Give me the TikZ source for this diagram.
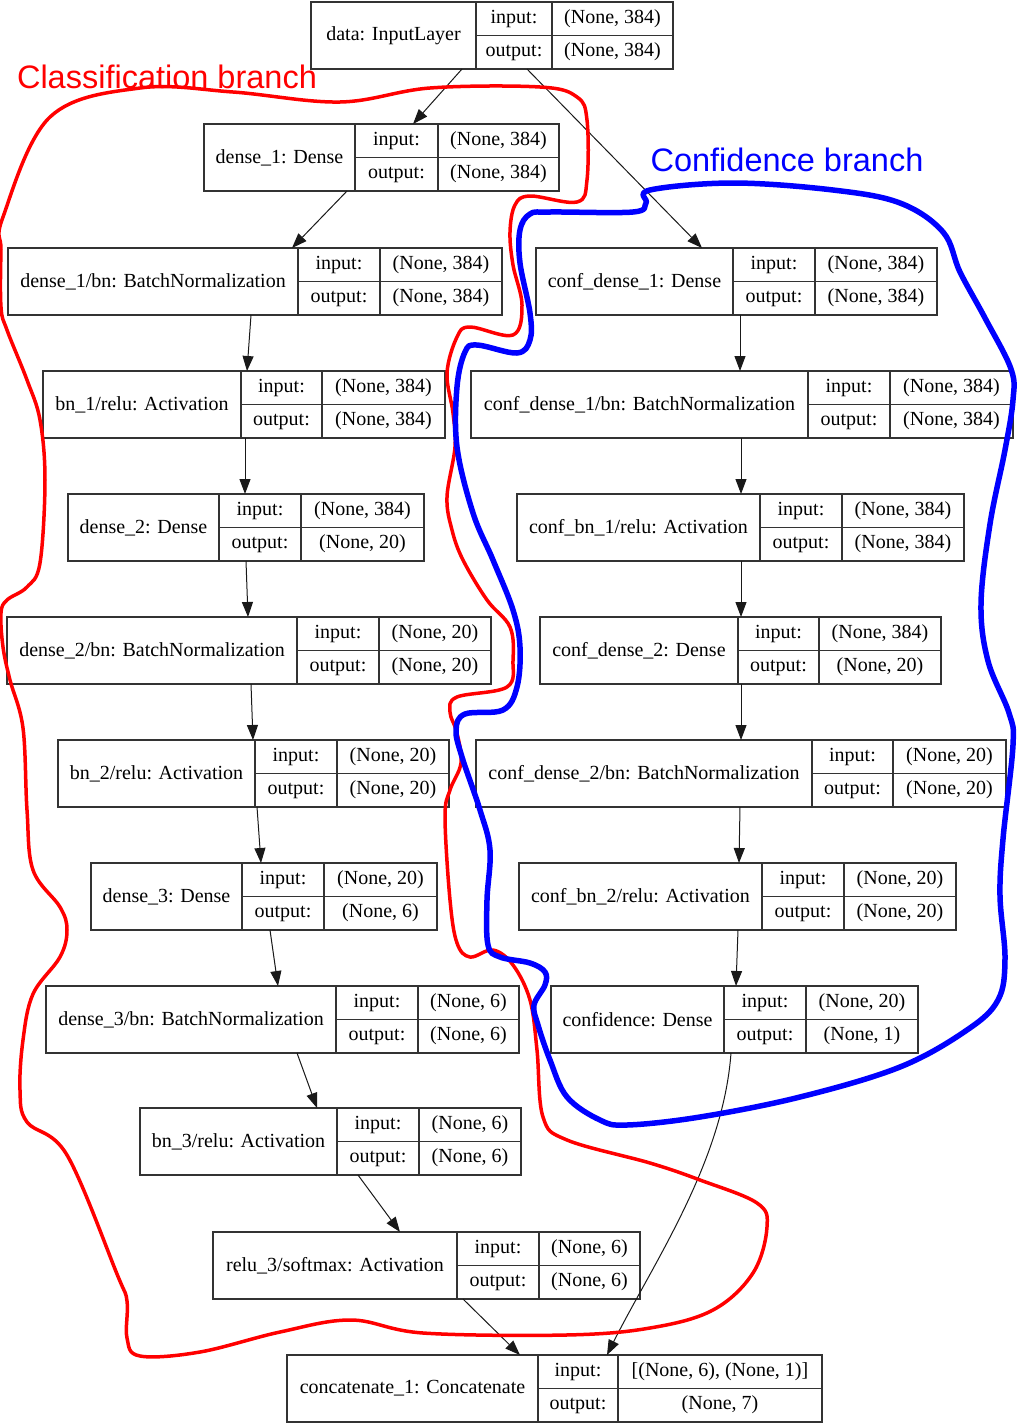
\documentclass[tikz,border=0pt]{standalone}
\usepackage{fontspec}
\setmainfont{Liberation Serif}
\newfontfamily\branchfont{Liberation Sans}
\usepackage{tikz}
\usetikzlibrary{arrows.meta}

% one keras layer: id, left, top, name width, label width, value width, title, input, output
\newcommand{\layer}[9]{%
\node[namebox,minimum width=#4pt,anchor=north west] (#1) at (#2,#3) {#7};
\node[cellbox,minimum width=#5pt,anchor=north west] (#1-in) at (#1.north east) {input:};
\node[cellbox,minimum width=#5pt,anchor=north west] (#1-out) at (#1-in.south west) {output:};
\node[cellbox,minimum width=#6pt,anchor=north west] (#1-inval) at (#1-in.north east) {#8};
\node[cellbox,minimum width=#6pt,anchor=north west] (#1-outval) at (#1-out.north east) {#9};
}

\begin{document}
\begin{tikzpicture}[x=1pt,y=-1pt,
namebox/.style={draw=black!80,line width=1.2pt,inner sep=0pt,outer sep=0pt,minimum height=67pt,
  font=\fontsize{20}{24}\selectfont},
cellbox/.style={draw=black!80,line width=1.2pt,inner sep=0pt,outer sep=0pt,minimum height=33.5pt,
  text height=14pt,text depth=5pt,font=\fontsize{20}{24}\selectfont},
edge/.style={draw=black!90,line width=1pt,-{Triangle[length=15pt,width=11pt]}},
branch/.style={font=\branchfont\fontsize{32.5}{38}\selectfont}
]
\useasboundingbox (0,0) rectangle (1017,1425);

% classification side
\layer{data}{311}{2}{165}{76}{121}{data: InputLayer}{(None, 384)}{(None, 384)}
\layer{d1}{204}{124}{151}{83}{121}{dense\_1: Dense}{(None, 384)}{(None, 384)}
\layer{d1bn}{8}{248}{290}{82}{122}{dense\_1/bn: BatchNormalization}{(None, 384)}{(None, 384)}
\layer{r1}{43}{371}{198}{81}{123}{bn\_1/relu: Activation}{(None, 384)}{(None, 384)}
\layer{d2}{68}{494}{151}{82}{123}{dense\_2: Dense}{(None, 384)}{(None, 20)}
\layer{d2bn}{7}{617}{290}{82}{112}{dense\_2/bn: BatchNormalization}{(None, 20)}{(None, 20)}
\layer{r2}{58}{740}{197}{82}{112}{bn\_2/relu: Activation}{(None, 20)}{(None, 20)}
\layer{d3}{91}{863}{151}{82}{113}{dense\_3: Dense}{(None, 20)}{(None, 6)}
\layer{d3bn}{46}{986}{290}{82}{101}{dense\_3/bn: BatchNormalization}{(None, 6)}{(None, 6)}
\layer{r3}{140}{1108}{197}{82}{102}{bn\_3/relu: Activation}{(None, 6)}{(None, 6)}
\layer{sm}{213}{1232}{244}{82}{101}{relu\_3/softmax: Activation}{(None, 6)}{(None, 6)}
\layer{cat}{287}{1355}{251}{80}{204}{concatenate\_1: Concatenate}{[(None, 6), (None, 1)]}{(None, 7)}

% confidence side
\layer{cd1}{536}{248}{197}{82}{122}{conf\_dense\_1: Dense}{(None, 384)}{(None, 384)}
\layer{cd1bn}{471}{371}{337}{82}{123}{conf\_dense\_1/bn: BatchNormalization}{(None, 384)}{(None, 384)}
\layer{cr1}{517}{494}{243}{82}{122}{conf\_bn\_1/relu: Activation}{(None, 384)}{(None, 384)}
\layer{cd2}{540}{617}{198}{81}{122}{conf\_dense\_2: Dense}{(None, 384)}{(None, 20)}
\layer{cd2bn}{476}{740}{336}{81}{113}{conf\_dense\_2/bn: BatchNormalization}{(None, 20)}{(None, 20)}
\layer{cr2}{519}{863}{243}{82}{112}{conf\_bn\_2/relu: Activation}{(None, 20)}{(None, 20)}
\layer{conf}{551}{986}{173}{82}{112}{confidence: Dense}{(None, 20)}{(None, 1)}

% edges
\draw[edge] ([xshift=151pt]data.south west) -- ([xshift=209pt]d1.north west);
\draw[edge] ([xshift=216pt]data.south west) -- ([xshift=166pt]cd1.north west);
\draw[edge] ([xshift=143pt]d1.south west) -- ([xshift=284pt]d1bn.north west);
\draw[edge] ([xshift=243pt]d1bn.south west) -- ([xshift=204pt]r1.north west);
\draw[edge] ([xshift=202pt]r1.south west) -- ([xshift=177pt]d2.north west);
\draw[edge] ([xshift=178pt]d2.south west) -- ([xshift=241pt]d2bn.north west);
\draw[edge] ([xshift=244pt]d2bn.south west) -- ([xshift=195pt]r2.north west);
\draw[edge] ([xshift=199pt]r2.south west) -- ([xshift=170pt]d3.north west);
\draw[edge] ([xshift=179pt]d3.south west) -- ([xshift=232pt]d3bn.north west);
\draw[edge] ([xshift=251pt]d3bn.south west) -- ([xshift=177pt]r3.north west);
\draw[edge] ([xshift=218pt]r3.south west) -- ([xshift=187pt]sm.north west);
\draw[edge] ([xshift=250pt]sm.south west) -- ([xshift=233pt]cat.north west);
\draw[edge] ([xshift=204pt]cd1.south west) -- ([xshift=269pt]cd1bn.north west);
\draw[edge] ([xshift=270pt]cd1bn.south west) -- ([xshift=224pt]cr1.north west);
\draw[edge] ([xshift=224pt]cr1.south west) -- ([xshift=201pt]cd2.north west);
\draw[edge] ([xshift=201pt]cd2.south west) -- ([xshift=265pt]cd2bn.north west);
\draw[edge] ([xshift=264pt]cd2bn.south west) -- ([xshift=220pt]cr2.north west);
\draw[edge] ([xshift=219pt]cr2.south west) -- ([xshift=185pt]conf.north west);
\draw[edge] ([xshift=180pt]conf.south west) .. controls +(-8,110) and +(45,-90) .. ([xshift=320pt]cat.north west);

% hand drawn branch outlines
\draw[red,line width=3.5pt,line join=round] plot[smooth cycle,tension=0.6] coordinates {
(3,217) (50,117) (140,88) (233,92) (340,102) (430,88) (540,87) (577,97) (587,120) (587,180)
(577,202) (530,196) (515,205) (510,232) (513,265) (522,305) (513,335) (470,327) (457,337)
(447,373) (453,413) (455,447) (447,497) (452,530) (463,560) (487,600) (510,627) (513,660)
(507,687) (457,697) (450,712) (457,733) (461,763) (450,790) (445,817) (450,900) (457,943)
(470,957) (493,950) (513,965) (530,1000) (537,1050) (543,1117) (567,1140) (650,1163)
(700,1180) (757,1203) (767,1227) (753,1273) (713,1310) (650,1328) (566,1335) (423,1333)
(351,1320) (280,1332) (200,1352) (140,1356) (127,1338) (127,1301) (117,1274) (67,1155)
(27,1122) (20,1090) (23,1040) (33,994) (60,957) (67,930) (60,907) (33,870) (27,810)
(23,728) (10,680) (3,647) (1,613) (7,600) (27,587) (40,563) (45,480) (40,420) (27,380)
(7,330) (1,307) (1,250)};
\draw[blue,line width=5.5pt,line join=round] plot[smooth cycle,tension=0.6] coordinates {
(650,190) (733,183) (833,190) (900,203) (943,232) (960,272) (985,318) (1011,369) (1013,400)
(1005,450) (990,524) (981,604) (988,661) (1009,713) (1013,745) (1003,839) (1000,896)
(1005,959) (998,1000) (967,1030) (900,1067) (800,1097) (700,1117) (627,1125) (600,1120)
(567,1097) (550,1060) (538,1025) (534,1005) (545,985) (545,972) (530,963) (500,957)
(488,945) (487,900) (490,850) (480,810) (462,757) (456,730) (465,714) (503,710) (517,687)
(520,647) (513,610) (493,560) (473,513) (457,447) (457,387) (465,352) (477,345) (517,353)
(530,340) (530,313) (520,263) (520,230) (530,214) (550,212) (633,212) (646,203)};

\node[branch,red] (clslabel) at (167,77) {Classification branch};
\node[branch,blue] (conflabel) at (787,160) {Confidence branch};
\end{tikzpicture}
\end{document}
